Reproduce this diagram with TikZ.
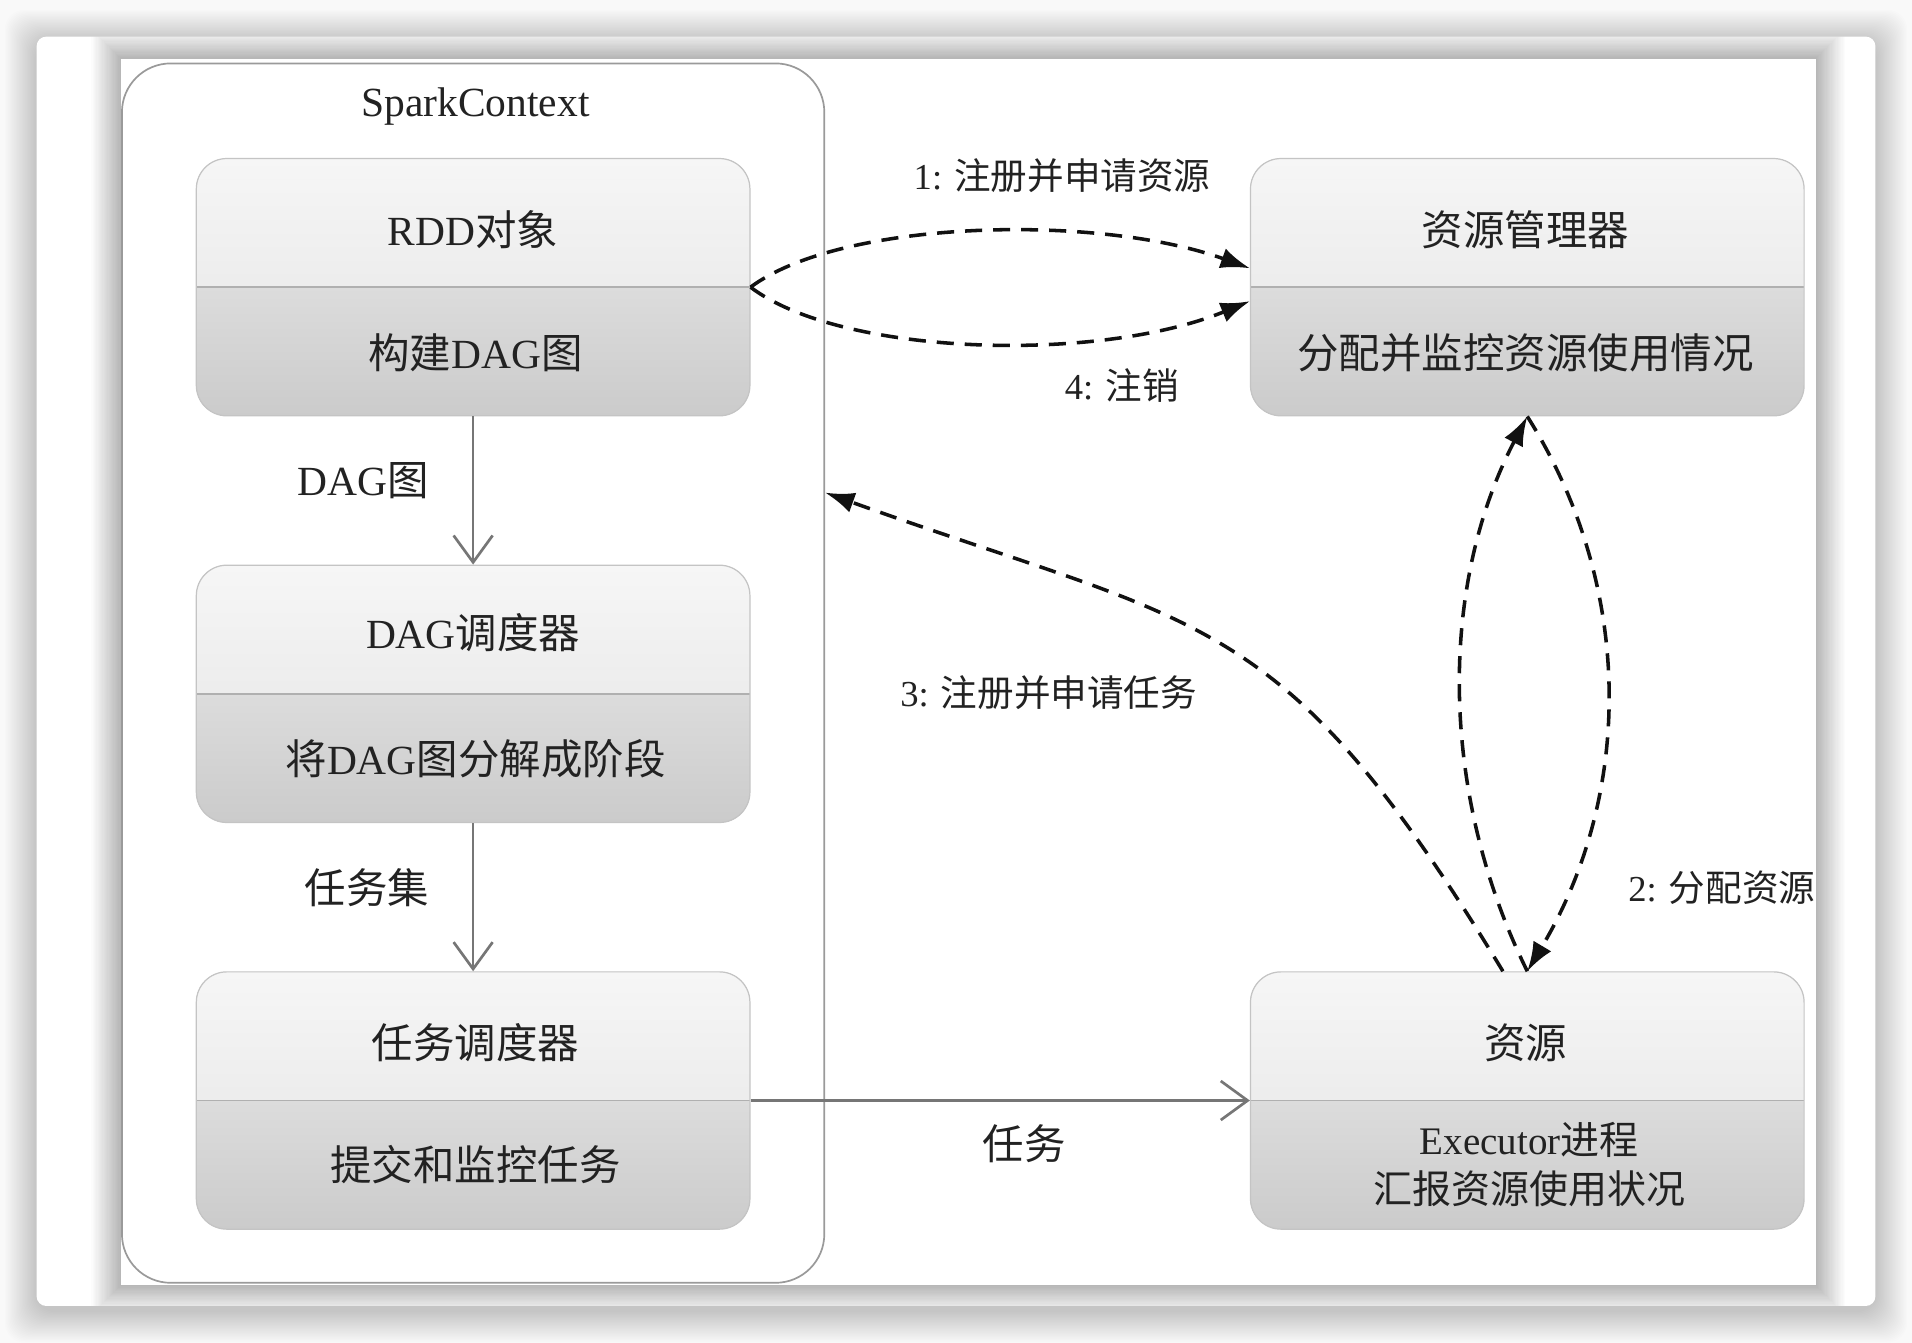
\documentclass[tikz,border=0pt]{standalone}
\usepackage{fontspec}
\setmainfont{Liberation Serif}
\newfontfamily\cjkfont{Noto Sans CJK SC}
\usetikzlibrary{arrows.meta,calc}
\newcommand\zh[1]{{\cjkfont #1}}
\definecolor{pagebg}{HTML}{F9F9F9}
\definecolor{txtc}{HTML}{222222}
\definecolor{boxline}{HTML}{C4C4C4}
\definecolor{divline}{HTML}{B0B0B0}
\definecolor{gA}{HTML}{F6F6F6}
\definecolor{gB}{HTML}{E3E3E3}
\definecolor{gC}{HTML}{DCDCDC}
\definecolor{gD}{HTML}{CBCBCB}
\definecolor{scline}{HTML}{9A9A9A}
\definecolor{solidc}{HTML}{767676}
\definecolor{dashc}{HTML}{111111}
\tikzset{
  boxnode/.style={minimum width=454pt, minimum height=211pt, rounded corners=25pt,
    draw=boxline, line width=1pt,
    path picture={
      \fill[sharp corners, top color=gA, bottom color=gB] (path picture bounding box.north west) rectangle (path picture bounding box.east);
      \fill[sharp corners, top color=gC, bottom color=gD] (path picture bounding box.west) rectangle (path picture bounding box.south east);
      \draw[sharp corners, divline, line width=1.3pt] (path picture bounding box.west) -- (path picture bounding box.east);
    }},
  boxtxt/.style={text=txtc, font=\fontsize{34}{40}\selectfont, inner sep=0pt},
  smalltxt/.style={text=txtc, font=\fontsize{32}{38}\selectfont, inner sep=0pt},
  lbltxt/.style={text=txtc, font=\fontsize{30}{36}\selectfont, inner sep=0pt},
  solidarr/.style={draw=solidc, line width=2.2pt, -{Straight Barb[length=22pt,width=32pt]}},
  dasharr/.style={draw=dashc, line width=2.9pt, dash pattern=on 14pt off 9pt, -{Latex[length=24pt,width=17pt]}}
}
\begin{document}
\begin{tikzpicture}[x=1pt,y=-1pt]
\useasboundingbox (0,0) rectangle (1568,1101);
\fill[pagebg] (0,0) rectangle (1568,1101);
% card shadow
\foreach \i in {1,...,26} {
  \fill[black, opacity=0.007, rounded corners=16pt] (30-\i,30-\i+4) rectangle (1538+\i,1071+\i+4);
}
\fill[white, rounded corners=8pt] (30,30) rectangle (1538,1071);
% inner image shadow
\begin{scope}
  \clip[rounded corners=8pt] (30,30) rectangle (1538,1071);
  \foreach \i in {1,...,24} {
    \fill[black, opacity=0.0105] (99-\i,48-\i) rectangle (1489+\i,1054+\i);
  }
\end{scope}
\fill[white] (99,48) rectangle (1489,1054);

% SparkContext container
\node[draw=scline, line width=1.4pt, rounded corners=40pt, minimum width=576pt, minimum height=1000pt] (sc) at (388,552) {};
\node[boxtxt] (sctitle) at (390,87) {SparkContext};

% boxes
\node[boxnode] (rdd) at (388,235.5) {};
\node[boxnode] (dag) at (388,569) {};
\node[boxnode] (task) at (388,902.5) {};
\node[boxnode] (rm) at (1252.5,235.5) {};
\node[boxnode] (res) at (1252.5,902.5) {};

\node[boxtxt] (rddT) at (388,188) {RDD\zh{对象}};
\node[boxtxt] (rddB) at (390,289) {\zh{构建}DAG\zh{图}};
\node[boxtxt] (dagT) at (388,519) {DAG\zh{调度器}};
\node[boxtxt] (dagB) at (390,622) {\zh{将}DAG\zh{图分解成阶段}};
\node[boxtxt] (taskT) at (390,855) {\zh{任务调度器}};
\node[boxtxt] (taskB) at (390,955) {\zh{提交和监控任务}};
\node[boxtxt] (rmT) at (1251,188) {\zh{资源管理器}};
\node[boxtxt] (rmB) at (1251,289) {\zh{分配并监控资源使用情况}};
\node[boxtxt] (resT) at (1251,855) {\zh{资源}};
\node[smalltxt] (resB1) at (1254,935) {Executor\zh{进程}};
\node[smalltxt] (resB2) at (1254,975) {\zh{汇报资源使用状况}};

% solid arrows
\draw[solidarr] (rdd.south) -- (dag.north);
\draw[solidarr] (dag.south) -- (task.north);
\draw[solidarr] (task.east) -- (res.west);
\node[boxtxt] (lblDag) at (298,394) {DAG\zh{图}};
\node[boxtxt] (lblSet) at (301,728) {\zh{任务集}};
\node[boxtxt] (lblTask) at (840,938) {\zh{任务}};

% dashed arrows
\draw[dasharr] (rdd.east) .. controls (690,180) and (900,175) .. ([yshift=15.5pt]rm.west);
\draw[dasharr] (rdd.east) .. controls (690,292) and (900,298) .. ([yshift=-11.5pt]rm.west);
\draw[dasharr] (res.north) .. controls (1180,650) and (1180,480) .. (rm.south);
\draw[dasharr] (rm.south) .. controls (1340,480) and (1340,650) .. (res.north);
\draw[dasharr] ([xshift=-20pt]res.north) .. controls (1050,496) and (988,516) .. ([yshift=148pt]sc.east);

\node[lbltxt] (lbl1) at (871,144) {1: \zh{注册并申请资源}};
\node[lbltxt] (lbl4) at (920,316) {4: \zh{注销}};
\node[lbltxt] (lbl2) at (1412,728) {2: \zh{分配资源}};
\node[lbltxt] (lbl3) at (860,568) {3: \zh{注册并申请任务}};
\end{tikzpicture}
\end{document}
